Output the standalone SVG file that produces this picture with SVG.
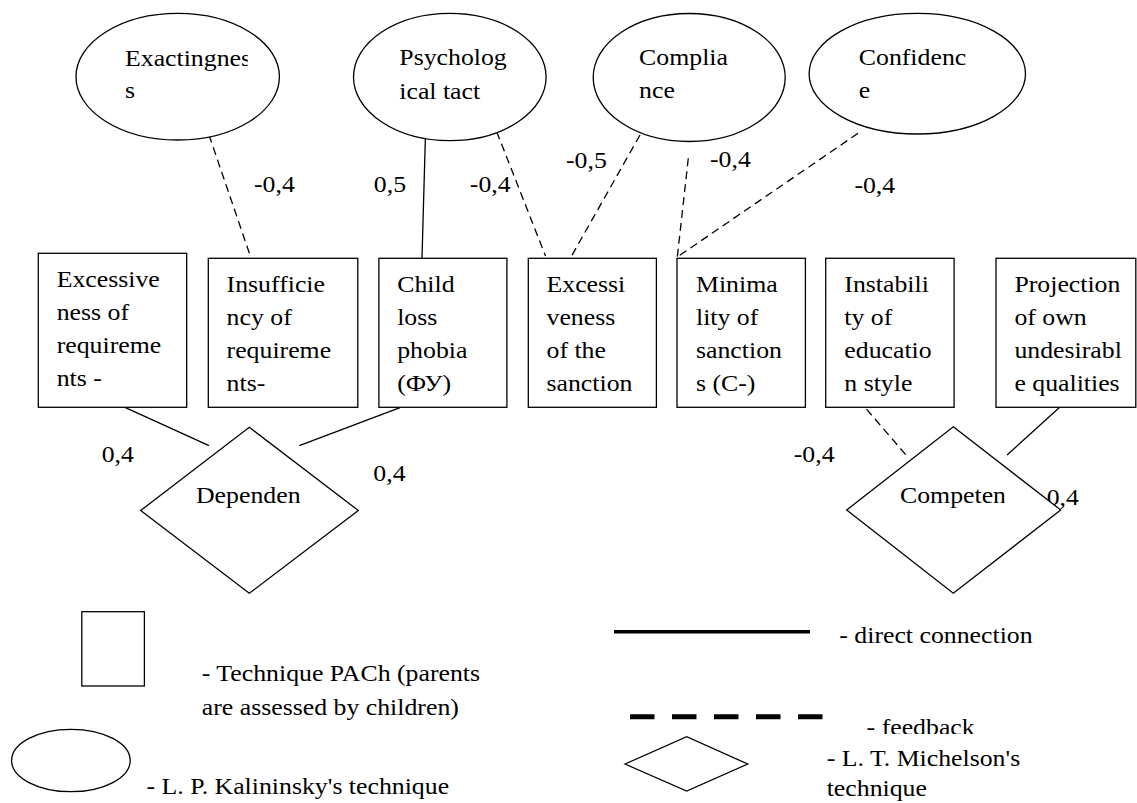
<svg xmlns="http://www.w3.org/2000/svg" width="1137" height="803" viewBox="0 0 1137 803">
<style>
  .shape { fill: #ffffff; stroke: #000000; stroke-width: 1.3; }
  .t { font-family: "Liberation Serif", "Times New Roman", serif; font-size: 24px; fill: #000000; }
  .solid { fill: none; stroke: #000000; stroke-width: 1.3; }
  .dash { fill: none; stroke: #000000; stroke-width: 1.3; stroke-dasharray: 8 5; }
</style>
<defs>
  <clipPath id="clipEx"><rect x="102.33" y="40" width="128.09" height="80"/></clipPath>
  <clipPath id="clipDep"><rect x="139.53" y="480" width="139.55" height="40"/></clipPath>
  <clipPath id="clipComp"><rect x="800" y="480" width="134.5" height="40"/></clipPath>
  <clipPath id="clipFeed"><rect x="790.7" y="700" width="204.65" height="34"/></clipPath>
</defs>
<rect x="0" y="0" width="1137" height="803" fill="#ffffff"/>

<g id="connectors">
  <line class="dash" x1="209" y1="135" x2="251" y2="258"/>
  <line class="solid" x1="425.5" y1="133" x2="422" y2="258"/>
  <line class="dash" x1="496.7" y1="131.7" x2="545.5" y2="256"/>
  <line class="dash" x1="640" y1="135" x2="571" y2="257"/>
  <line class="dash" x1="688.3" y1="158.3" x2="677.3" y2="257"/>
  <line class="dash" x1="858" y1="133.3" x2="677.3" y2="257"/>
  <line class="solid" x1="123.3" y1="406.7" x2="209" y2="445.7"/>
  <line class="solid" x1="400" y1="407.7" x2="299.3" y2="445.7"/>
  <line class="dash" x1="858" y1="399.3" x2="906" y2="455"/>
  <line class="solid" x1="1059.7" y1="407.3" x2="1007.1" y2="455"/>
</g>

<g id="labels">
  <text class="t" transform="scale(1.075,1)" x="236.28" y="191.7">-0,4</text>
  <text class="t" transform="scale(1.075,1)" x="347.72" y="191.7">0,5</text>
  <text class="t" transform="scale(1.075,1)" x="437.02" y="191.7">-0,4</text>
  <text class="t" transform="scale(1.075,1)" x="526.51" y="167.7">-0,5</text>
  <text class="t" transform="scale(1.075,1)" x="660.47" y="166.7">-0,4</text>
  <text class="t" transform="scale(1.075,1)" x="794.79" y="192.7">-0,4</text>
  <text class="t" transform="scale(1.075,1)" x="94.6" y="461.7">0,4</text>
  <text class="t" transform="scale(1.075,1)" x="347.26" y="481">0,4</text>
  <text class="t" transform="scale(1.075,1)" x="738.33" y="461.7">-0,4</text>
  <text class="t" transform="scale(1.075,1)" x="973.67" y="505">0,4</text>
</g>

<g id="e-exactingness">
  <ellipse class="shape" cx="177.7" cy="76.7" rx="101.7" ry="63.3"/>
  <text class="t" transform="scale(1.075,1)" clip-path="url(#clipEx)"><tspan x="116.28" y="65.7">Exactingness</tspan><tspan x="116.28" y="98.3">s</tspan></text>
</g>
<g id="e-psych">
  <ellipse class="shape" cx="449.8" cy="77" rx="96.3" ry="63.7"/>
  <text class="t" transform="scale(1.075,1)"><tspan x="371.44" y="65.3">Psycholog</tspan><tspan x="371.44" y="98.7">ical tact</tspan></text>
</g>
<g id="e-compliance">
  <ellipse class="shape" cx="689.2" cy="77.5" rx="96" ry="64"/>
  <text class="t" transform="scale(1.075,1)"><tspan x="594.51" y="65.3">Complia</tspan><tspan x="594.51" y="98.3">nce</tspan></text>
</g>
<g id="e-confidence">
  <ellipse class="shape" cx="917.3" cy="73.7" rx="108.2" ry="60.3"/>
  <text class="t" transform="scale(1.075,1)"><tspan x="798.88" y="65.3">Confidenc</tspan><tspan x="798.88" y="98.3">e</tspan></text>
</g>

<g id="r-excessiveness-req">
  <rect class="shape" x="38.3" y="253.3" width="148.4" height="154"/>
  <text class="t" transform="scale(1.075,1)"><tspan x="52.74" y="286.7">Excessive</tspan><tspan x="52.74" y="319.7">ness of</tspan><tspan x="52.74" y="352.7">requireme</tspan><tspan x="52.74" y="385.7">nts -</tspan></text>
</g>
<g id="r-insufficiency">
  <rect class="shape" x="208.3" y="258.3" width="149.5" height="149"/>
  <text class="t" transform="scale(1.075,1)"><tspan x="210.79" y="291.7">Insufficie</tspan><tspan x="210.79" y="324.7">ncy of</tspan><tspan x="210.79" y="357.7">requireme</tspan><tspan x="210.79" y="390.7">nts-</tspan></text>
</g>
<g id="r-child-loss">
  <rect class="shape" x="378.9" y="258.3" width="128" height="149"/>
  <text class="t" transform="scale(1.075,1)"><tspan x="369.49" y="291.7">Child</tspan><tspan x="369.49" y="324.7">loss</tspan><tspan x="369.49" y="357.7">phobia</tspan><tspan x="369.49" y="390.7">(ФУ)</tspan></text>
</g>
<g id="r-excessiveness-sanction">
  <rect class="shape" x="528.3" y="258.3" width="128.1" height="149"/>
  <text class="t" transform="scale(1.075,1)"><tspan x="508.37" y="291.7">Excessi</tspan><tspan x="508.37" y="324.7">veness</tspan><tspan x="508.37" y="357.7">of the</tspan><tspan x="508.37" y="390.7">sanction</tspan></text>
</g>
<g id="r-minimality">
  <rect class="shape" x="677" y="258.3" width="128.4" height="149"/>
  <text class="t" transform="scale(1.075,1)"><tspan x="647.44" y="291.7">Minima</tspan><tspan x="647.44" y="324.7">lity of</tspan><tspan x="647.44" y="357.7">sanction</tspan><tspan x="647.44" y="390.7">s (C-)</tspan></text>
</g>
<g id="r-instability">
  <rect class="shape" x="825.7" y="258.3" width="128.4" height="149"/>
  <text class="t" transform="scale(1.075,1)"><tspan x="785.4" y="291.7">Instabili</tspan><tspan x="785.4" y="324.7">ty of</tspan><tspan x="785.4" y="357.7">educatio</tspan><tspan x="785.4" y="390.7">n style</tspan></text>
</g>
<g id="r-projection">
  <rect class="shape" x="996" y="258.3" width="139.8" height="149"/>
  <text class="t" transform="scale(1.075,1)"><tspan x="943.63" y="291.7">Projection</tspan><tspan x="943.63" y="324.7">of own</tspan><tspan x="943.63" y="357.7">undesirabl</tspan><tspan x="943.63" y="390.7">e qualities</tspan></text>
</g>

<g id="d-dependence">
  <polygon class="shape" points="249.3,427.3 358.3,510.5 249.3,593.3 140.7,510.5"/>
  <text class="t" transform="scale(1.075,1)" x="182.33" y="502.7" clip-path="url(#clipDep)">Dependence</text>
</g>
<g id="d-competence">
  <polygon class="shape" points="953.3,426.7 1060.7,510 953.3,593.3 846.7,510"/>
  <text class="t" transform="scale(1.075,1)" x="837.21" y="503.3" clip-path="url(#clipComp)">Competence</text>
</g>

<g id="legend">
  <rect class="shape" x="81.8" y="611.7" width="62.6" height="74.3"/>
  <text class="t" transform="scale(1.075,1)"><tspan x="187.72" y="680.7">- Technique PACh (parents</tspan><tspan x="187.72" y="715">are assessed by children)</tspan></text>
  <ellipse class="shape" cx="70.9" cy="760.5" rx="59.3" ry="31.2"/>
  <text class="t" transform="scale(1.075,1)" x="136.28" y="794">- L. P. Kalininsky's technique</text>
  <line x1="614" y1="631.7" x2="810" y2="631.7" stroke="#000000" stroke-width="3.6"/>
  <text class="t" transform="scale(1.075,1)" x="780.74" y="643.3">- direct connection</text>
  <line x1="630" y1="716.7" x2="822.5" y2="716.7" stroke="#000000" stroke-width="5" stroke-dasharray="24.5 17.5"/>
  <text class="t" transform="scale(1.075,1)" x="806.14" y="735.5" clip-path="url(#clipFeed)">- feedback</text>
  <polygon class="shape" points="625,764 686.7,736.7 747.7,764 686.7,791"/>
  <text class="t" transform="scale(1.075,1)"><tspan x="769.02" y="766">- L. T. Michelson's</tspan><tspan x="769.02" y="796">technique</tspan></text>
</g>
</svg>
